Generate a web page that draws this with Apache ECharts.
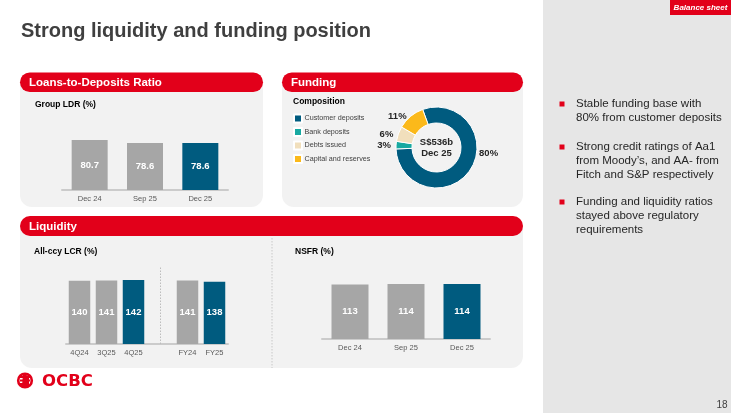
<!DOCTYPE html>
<html>
<head>
<meta charset="utf-8">
<script src="https://cdn.jsdelivr.net/npm/echarts@6/dist/echarts.min.js"></script>
<style>
  html, body { margin: 0; padding: 0; background: #ffffff; }
  #chart { width: 731px; height: 413px; }
</style>
</head>
<body>
<div id="chart"></div>
<script>
// ---- Data ----
const ldrCategories = ['Dec 24', 'Sep 25', 'Dec 25'];
const ldrValues = [80.7, 78.6, 78.6];
const ldrHighlight = [false, false, true];

const lcrCategories = ['4Q24', '3Q25', '4Q25', ' ', 'FY24', 'FY25'];
const lcrValues = [140, 141, 142, null, 141, 138];
const lcrHighlight = [false, false, true, false, false, true];

const nsfrCategories = ['Dec 24', 'Sep 25', 'Dec 25'];
const nsfrValues = [113, 114, 114];
const nsfrHighlight = [false, false, true];

const fundingNames = ['Customer deposits', 'Bank deposits', 'Debts issued', 'Capital and reserves'];
const fundingValues = [80, 3, 6, 11];
const fundingTotalLabel = 'S$536b';
const fundingDateLabel = 'Dec 25';

const bulletTexts = [
  'Stable funding base with\n80% from customer deposits',
  'Strong credit ratings of Aa1\nfrom Moody\u2019s, and AA- from\nFitch and S&P respectively',
  'Funding and liquidity ratios\nstayed above regulatory\nrequirements'
];

// ---- Styles ----
const RED = '#e2001a';
const GREY_BAR = '#a6a6a6';
const BLUE = '#005b7f';
const PANEL = '#f2f2f2';
const FONT = '"Liberation Sans", Arial, sans-serif';
const pieColors = ['#005b7f', '#17a9a1', '#f1dfbc', '#fbb91a'];

function barData(values, hl) {
  return values.map((v, i) => (v === null ? null : {
    value: v,
    itemStyle: { color: hl[i] ? BLUE : GREY_BAR }
  }));
}

const axisCommon = (gridIndex, cats, margin) => ({
  type: 'category', gridIndex, data: cats,
  axisTick: { show: false },
  axisLine: { lineStyle: { color: '#cbcbcb', width: 2 } },
  axisLabel: { color: '#595959', fontSize: 7.5, margin, fontFamily: FONT }
});

const barLabel = {
  show: true, position: 'inside', color: '#ffffff',
  fontWeight: 'bold', fontSize: 9.5, fontFamily: FONT
};

const chart = echarts.init(document.getElementById('chart'), null, { renderer: 'canvas' });

function txt(text, x, y, font, fill, extra) {
  return Object.assign({
    type: 'text', z: 50, silent: true,
    style: Object.assign({ text, x, y, font, fill, textAlign: 'left', textVerticalAlign: 'middle' }, extra || {})
  });
}
function rect(x, y, w, h, r, fill, z) {
  return { type: 'rect', z: z, silent: true, shape: { x, y, width: w, height: h, r }, style: { fill } };
}

const graphics = [
  // right side panel
  rect(543, 0, 188, 413, 0, '#e6e6e6', -10),
  rect(670, 0, 61, 15, 0, RED, -5),
  txt('Balance sheet', 700.5, 7.5, 'italic bold 8px ' + FONT, '#ffffff', { textAlign: 'center' }),
  // title
  txt('Strong liquidity and funding position', 21, 31, 'bold 20px ' + FONT, '#3f3f3f'),
  // LDR panel
  rect(20, 73, 243, 134, [10, 10, 12, 12], PANEL, -10),
  rect(20, 72.5, 243, 19.5, 9.75, RED, -5),
  txt('Loans-to-Deposits Ratio', 29, 82.5, 'bold 11.5px ' + FONT, '#ffffff'),
  txt('Group LDR (%)', 35, 105, 'bold 8.5px ' + FONT, '#000000'),
  // Funding panel
  rect(282, 73, 241, 134, [10, 10, 12, 12], PANEL, -10),
  rect(282, 72.5, 241, 19.5, 9.75, RED, -5),
  txt('Funding', 291, 82.5, 'bold 11.5px ' + FONT, '#ffffff'),
  txt('Composition', 293, 102, 'bold 8.5px ' + FONT, '#000000'),
  txt(fundingTotalLabel, 436.5, 142.5, 'bold 9.5px ' + FONT, '#262626', { textAlign: 'center' }),
  txt(fundingDateLabel, 436.5, 153, 'bold 9.5px ' + FONT, '#262626', { textAlign: 'center' }),
  // Liquidity panel
  rect(20, 217, 503, 151, [10, 10, 12, 12], PANEL, -10),
  rect(20, 216, 503, 20, 10, RED, -5),
  txt('Liquidity', 29, 226.5, 'bold 11.5px ' + FONT, '#ffffff'),
  txt('All-ccy LCR (%)', 34, 252, 'bold 8.5px ' + FONT, '#000000'),
  txt('NSFR (%)', 295, 251.5, 'bold 8.5px ' + FONT, '#000000'),
  { type: 'line', z: -4, silent: true, shape: { x1: 272, y1: 238, x2: 272, y2: 368 },
    style: { stroke: '#c8c8c8', lineWidth: 1, lineDash: [1.5, 1.5] } },
  // logo
  { type: 'circle', z: 5, silent: true, shape: { cx: 25, cy: 380.5, r: 6.8 }, style: { fill: 'none', stroke: RED, lineWidth: 2.6 } },
  rect(20, 376, 10, 2, 0, RED, 6),
  rect(20, 379.5, 10, 2, 0, RED, 6),
  rect(20, 383, 8, 2, 0, RED, 6),
  { type: 'polygon', z: 6, silent: true, shape: { points: [[23, 374], [29, 376], [29, 386], [22, 386]] }, style: { fill: RED } },
  txt('OCBC', 42, 381.5, 'bold 16.5px "DejaVu Sans", ' + FONT, RED),
  // page number
  txt('18', 716.5, 405.5, '10px ' + FONT, '#404040')
];

// bullets
const bulletY = [97.3, 140.3, 195.3];
bulletTexts.forEach((t, i) => {
  graphics.push(rect(559.5, bulletY[i] + 4.2, 5, 5, 0, RED, 5));
  graphics.push(txt(t, 576, bulletY[i], '11.5px ' + FONT, '#262626', { textVerticalAlign: 'top', lineHeight: 14 }));
});

const option = {
  animation: false,
  backgroundColor: '#ffffff',
  textStyle: { fontFamily: FONT },
  grid: [
    { left: 62, width: 166, top: 112.2, height: 77.8 },
    { left: 66, width: 162, top: 267.3, height: 76.7 },
    { left: 322, width: 168, top: 266.7, height: 72.3 }
  ],
  xAxis: [
    axisCommon(0, ldrCategories, 4.5),
    axisCommon(1, lcrCategories, 4.5),
    axisCommon(2, nsfrCategories, 5)
  ],
  yAxis: [
    { type: 'value', gridIndex: 0, min: 46, max: 100, show: false },
    { type: 'value', gridIndex: 1, min: 0, max: 170, show: false },
    { type: 'value', gridIndex: 2, min: 0, max: 150, show: false }
  ],
  legend: {
    orient: 'vertical', left: 293, top: 113.5, padding: 0,
    itemWidth: 8, itemHeight: 8, itemGap: 3.5,
    icon: 'rect', selectedMode: false,
    textStyle: { fontSize: 7.2, color: '#404040', fontFamily: FONT, padding: [0, 0, 0, -2.5] },
    data: fundingNames
  },
  graphic: { elements: graphics },
  series: [
    {
      type: 'bar', xAxisIndex: 0, yAxisIndex: 0, barWidth: 36,
      data: barData(ldrValues, ldrHighlight),
      label: Object.assign({}, barLabel, { formatter: p => p.value.toFixed(1) })
    },
    {
      type: 'bar', xAxisIndex: 1, yAxisIndex: 1, barWidth: 21.5,
      data: barData(lcrValues, lcrHighlight),
      label: barLabel,
      markLine: {
        silent: true, symbol: 'none', label: { show: false },
        lineStyle: { color: '#bdbdbd', type: [1.5, 1.5], width: 1 },
        data: [{ xAxis: 3 }]
      }
    },
    {
      type: 'bar', xAxisIndex: 2, yAxisIndex: 2, barWidth: 37,
      data: barData(nsfrValues, nsfrHighlight),
      label: barLabel
    },
    {
      type: 'pie', center: [436.5, 147.5], radius: [24.5, 40.5],
      startAngle: 110, clockwise: true, avoidLabelOverlap: false,
      itemStyle: { borderColor: '#ffffff', borderWidth: 1 },
      label: {
        show: true, position: 'outside', formatter: '{c}%',
        fontSize: 9.5, fontWeight: 'bold', color: '#262626', fontFamily: FONT
      },
      labelLine: { show: false, length: 0, length2: 0 },
      labelLayout: function (p) {
        if (p.dataIndex === 0) return { dx: 4, dy: -17 };
        if (p.dataIndex === 3) return { dx: 1, dy: 0 };
        return {};
      },
      emphasis: { disabled: true },
      data: fundingNames.map((n, i) => ({ name: n, value: fundingValues[i], itemStyle: { color: pieColors[i] } }))
    }
  ]
};

chart.setOption(option);
</script>
</body>
</html>
